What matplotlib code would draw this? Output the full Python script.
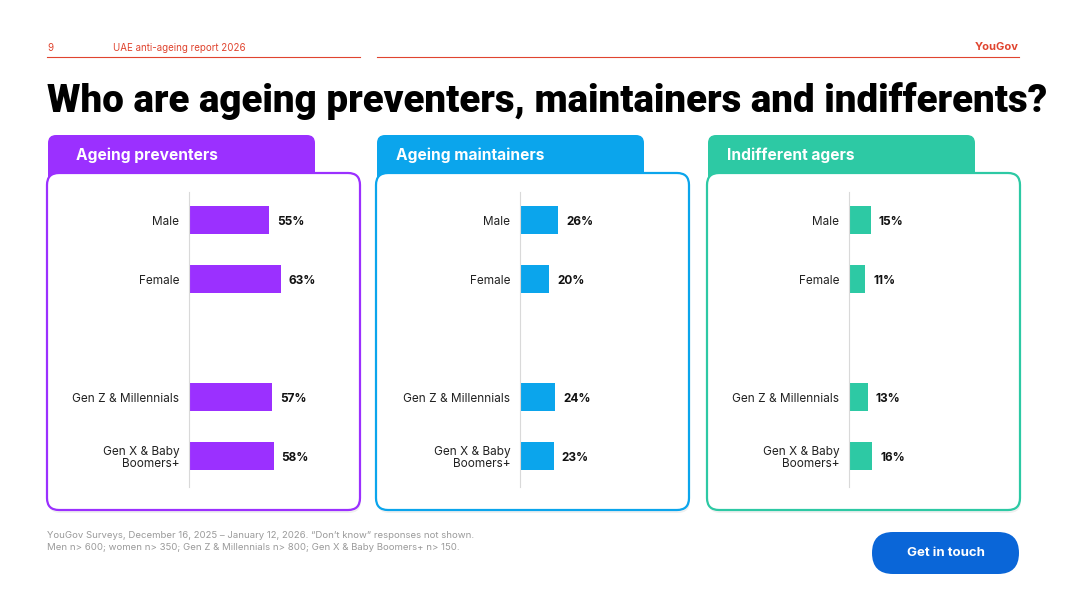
import matplotlib
matplotlib.use("Agg")
import matplotlib.pyplot as plt
from matplotlib.patches import FancyBboxPatch

plt.rcParams['font.family'] = ['Inter', 'DejaVu Sans']

# data
groups = ["Male", "Female", "Gen Z & Millennials", "Gen X & Baby\nBoomers+"]
group_pos = [0, 1, 3, 4]
panel_titles = ["Ageing preventers", "Ageing maintainers", "Indifferent agers"]
preventers = [55, 63, 57, 58]
maintainers = [26, 20, 24, 23]
indifferent = [15, 11, 13, 16]
panel_values = [preventers, maintainers, indifferent]

colors = ["#9B30FF", "#0BA5EC", "#2DC9A4"]
red = "#E0442F"

W, H = 1067, 600
fig = plt.figure(figsize=(W / 100, H / 100), dpi=100)

# page background axes in pixel coords
bg = fig.add_axes([0, 0, 1, 1])
bg.set_xlim(0, W)
bg.set_ylim(H, 0)
bg.axis("off")

# header
bg.text(47, 48, "9", fontsize=7, color=red, va="center")
bg.text(113, 48, "UAE anti-ageing report 2026", fontsize=7, color=red, va="center")
bg.plot([47, 360], [57, 57], color=red, lw=0.8)
bg.plot([377, 1019], [57, 57], color=red, lw=0.8)
bg.text(1019, 47, "YouGov", fontsize=8, color=red, weight="bold", ha="right", va="center")

bg.text(47, 112, "Who are ageing preventers, maintainers and indifferents?",
        fontsize=27.7, weight="black", color="black", va="baseline",
        family=["Roboto", "DejaVu Sans"])

box_left = [47, 376, 707]
axis_off = [142, 144, 142]
title_off = [29, 20, 20]
box_w, tab_w = 313, 267

for i in range(3):
    x0 = box_left[i]
    c = colors[i]
    # tab
    bg.add_patch(FancyBboxPatch((x0 + 1, 135), tab_w, 50,
                                boxstyle="round,pad=0,rounding_size=8",
                                fc=c, ec="none", zorder=1))
    bg.text(x0 + title_off[i], 155, panel_titles[i], color="white", fontsize=11.2,
            weight="bold", va="center", zorder=2)
    # shadow
    bg.add_patch(FancyBboxPatch((x0 + 1, 176), box_w, 337,
                                boxstyle="round,pad=0,rounding_size=12",
                                fc="#000000", alpha=0.06, ec="none", zorder=2))
    # box
    bg.add_patch(FancyBboxPatch((x0, 173), box_w, 337,
                                boxstyle="round,pad=0,rounding_size=12",
                                fc="white", ec=c, lw=1.6, zorder=3))

    # bar chart
    ax_left, ax_top, ax_bot, ax_w = x0 + axis_off[i], 192, 487, 143
    ax = fig.add_axes([ax_left / W, 1 - ax_bot / H, ax_w / W, (ax_bot - ax_top) / H])
    ax.patch.set_alpha(0)
    vals = panel_values[i]
    ax.barh(group_pos, vals, height=0.49, color=c)
    for p, v in zip(group_pos, vals):
        ax.text(v + 5.5, p, f"{v}%", fontsize=8.5, weight="bold",
                va="center_baseline", color="#111111")
    ax.set_xlim(0, 98)
    ax.set_ylim(4.525, -0.475)
    ax.set_yticks(group_pos, groups, fontsize=8.5, color="#222222", linespacing=1.0)
    ax.tick_params(axis="y", length=0, pad=7)
    ax.set_xticks([])
    for s in ["top", "right", "bottom"]:
        ax.spines[s].set_visible(False)
    ax.spines["left"].set_color("#D9D9D9")
    ax.spines["left"].set_linewidth(0.8)

# footer
bg.text(47, 536, "YouGov Surveys, December 16, 2025 \u2013 January 12, 2026. \u201cDon\u2019t know\u201d responses not shown.",
        fontsize=6.9, color="#9A9A9A", va="center")
bg.text(47, 548, "Men n> 600; women n> 350; Gen Z & Millennials n> 800; Gen X & Baby Boomers+ n> 150.",
        fontsize=6.9, color="#9A9A9A", va="center")

bg.add_patch(FancyBboxPatch((872, 532), 147, 42,
                            boxstyle="round,pad=0,rounding_size=21",
                            fc="#0A66D8", ec="none"))
bg.text(945.5, 553, "Get in touch", color="white", fontsize=9.5, weight="bold",
        ha="center", va="center")

fig.savefig("out.png", dpi=100, facecolor="white")
